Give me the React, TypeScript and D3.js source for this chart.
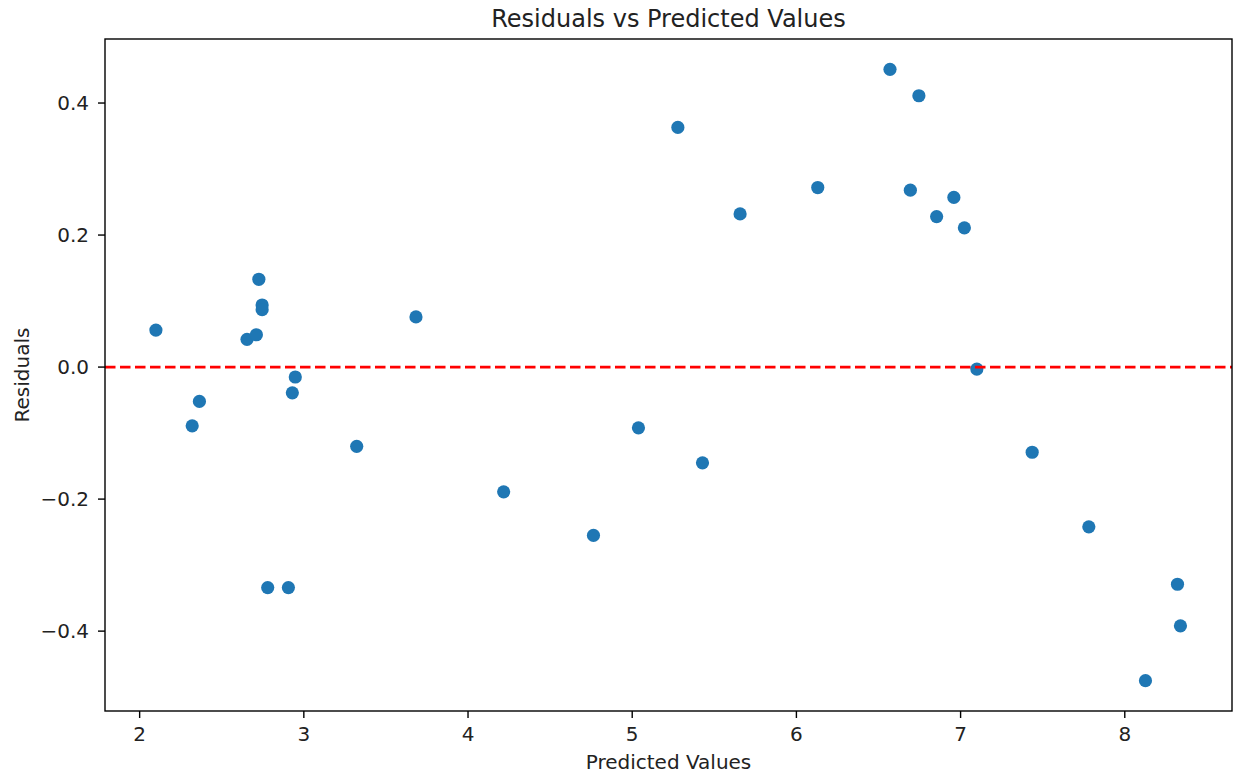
import * as d3 from 'd3';

// predicted values (x) and residuals (y)
const predicted = [
  2.099, 2.320, 2.364, 2.654, 2.711, 2.726, 2.746, 2.746, 2.780, 2.906, 2.930,
  2.948, 3.322, 3.683, 4.217, 4.764, 5.038, 5.278, 5.428, 5.657, 6.130, 6.570,
  6.746, 6.694, 6.854, 6.959, 7.023, 7.099, 7.436, 7.781, 8.126, 8.321, 8.339,
];
const residuals = [
  0.056, -0.089, -0.052, 0.042, 0.049, 0.133, 0.094, 0.087, -0.334, -0.334, -0.039,
  -0.015, -0.120, 0.076, -0.189, -0.255, -0.092, 0.363, -0.145, 0.232, 0.272, 0.451,
  0.411, 0.268, 0.228, 0.257, 0.211, -0.003, -0.129, -0.242, -0.475, -0.329, -0.392,
];
const xTicks = [2, 3, 4, 5, 6, 7, 8];
const yTicks = [-0.4, -0.2, 0, 0.2, 0.4];
const xDomain = [1.789, 8.653];
const yDomain = [-0.521, 0.497];

const WIDTH = 1235, HEIGHT = 776;
const M = { top: 39, right: 3, bottom: 65, left: 105 };
const FONT = '"DejaVu Sans", sans-serif';
const TEXT = '#222';

export default function App() {
  const x = d3.scaleLinear().domain(xDomain).range([M.left, WIDTH - M.right]);
  const y = d3.scaleLinear().domain(yDomain).range([HEIGHT - M.bottom, M.top]);
  const fmt = d3.format('.1f');
  const points = predicted.map((p, i) => ({ p, r: residuals[i] }));
  const [x0, x1] = x.range();
  const [y0, y1] = y.range();

  return (
    <svg width={WIDTH} height={HEIGHT} style={{ position: 'absolute', left: 0, top: 0, background: '#fff' }} fontFamily={FONT}>
      {/* title */}
      <text x={(x0 + x1) / 2} y={27} textAnchor="middle" fontSize={24} fill={TEXT}>Residuals vs Predicted Values</text>

      {/* points */}
      {points.map((d, i) => (
        <circle key={i} cx={x(d.p)} cy={y(d.r)} r={6.6} fill="#1f77b4" />
      ))}

      {/* zero line */}
      <line x1={x0} x2={x1} y1={y(0)} y2={y(0)} stroke="#ff0000" strokeWidth={2.8} strokeDasharray="10.5,4.5" />

      {/* frame */}
      <rect x={x0} y={y1} width={x1 - x0} height={y0 - y1} fill="none" stroke="#000" strokeWidth={1.4} />

      {/* x ticks */}
      {xTicks.map(t => (
        <g key={t} transform={`translate(${x(t)},${y0})`}>
          <line y2={7} stroke="#000" strokeWidth={1.4} />
          <text y={30} textAnchor="middle" fontSize={20} fill={TEXT}>{t}</text>
        </g>
      ))}

      {/* y ticks */}
      {yTicks.map(t => (
        <g key={t} transform={`translate(${x0},${y(t)})`}>
          <line x2={-7} stroke="#000" strokeWidth={1.4} />
          <text x={-16} dy="0.36em" textAnchor="end" fontSize={20} fill={TEXT}>{fmt(t)}</text>
        </g>
      ))}

      {/* axis labels */}
      <text x={(x0 + x1) / 2} y={769} textAnchor="middle" fontSize={20} fill={TEXT}>Predicted Values</text>
      <text transform={`translate(29,${(y0 + y1) / 2}) rotate(-90)`} textAnchor="middle" fontSize={20} fill={TEXT}>Residuals</text>
    </svg>
  );
}
